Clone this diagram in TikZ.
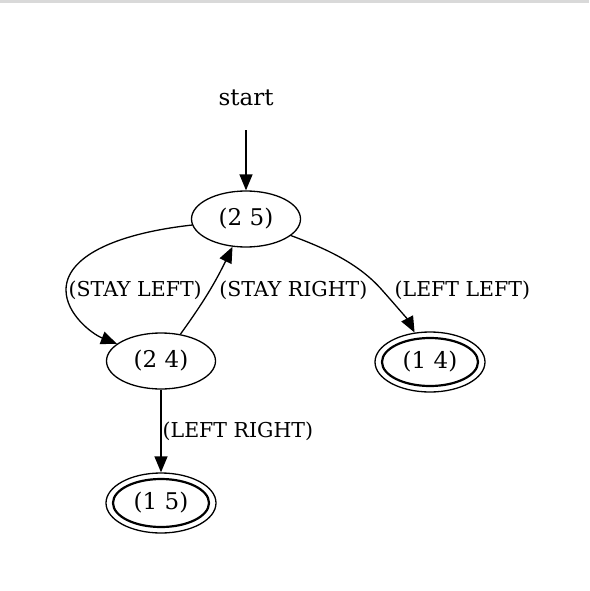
\documentclass[tikz,border=0pt]{standalone}
\usepackage{fontspec}
\setmainfont{DejaVu Serif}
\usetikzlibrary{arrows.meta,shapes.geometric}

\begin{document}
\begin{tikzpicture}[x=1pt,y=-1pt,
  state/.style={draw,ellipse,minimum width=109pt,minimum height=56pt,inner sep=0pt,font=\fontsize{23}{27}\selectfont,line width=1.3pt},
  accept/.style={state,minimum width=110pt,minimum height=60pt},
  plain/.style={inner sep=0pt,minimum height=64pt,font=\fontsize{23}{27}\selectfont},
  lbl/.style={font=\fontsize{20.5}{24}\selectfont,inner sep=1pt},
  edge/.style={-{Triangle[length=16pt,width=13pt]},line width=1.3pt}
]
\useasboundingbox (0,0) rectangle (589,591);
\fill[gray!30] (0,0) rectangle (589,3);

\node[plain] (start) at (246,98) {start};
\node[state] (n25) at (246,219) {(2 5)};
\node[state] (n24) at (161,361) {(2 4)};
\node[accept] (n14) at (430,362) {(1 4)};
\node[accept] (n15) at (161,503) {(1 5)};
\draw[line width=2.2pt] (n14.center) ellipse [x radius=48pt, y radius=24pt];
\draw[line width=2.2pt] (n15.center) ellipse [x radius=48pt, y radius=24pt];

\draw[edge] (start) -- (n25);
\draw[edge] (n25) .. controls (112,234) and (66,258) .. (66,290) node[lbl,right=1pt] {(STAY LEFT)}
  .. controls (66,314) and (92,334) .. (n24);
\draw[edge] (n24) to[bend right=5] node[lbl,right=8pt,pos=0.52] {(STAY RIGHT)} (n25);
\draw[edge] (n25) .. controls (330,250) and (360,265) .. (382,290) node[lbl,right=11pt] {(LEFT LEFT)}
  .. controls (398,308) and (408,320) .. (n14);
\draw[edge] (n24) -- node[lbl,right,pos=0.5] {(LEFT RIGHT)} (n15);
\end{tikzpicture}
\end{document}
